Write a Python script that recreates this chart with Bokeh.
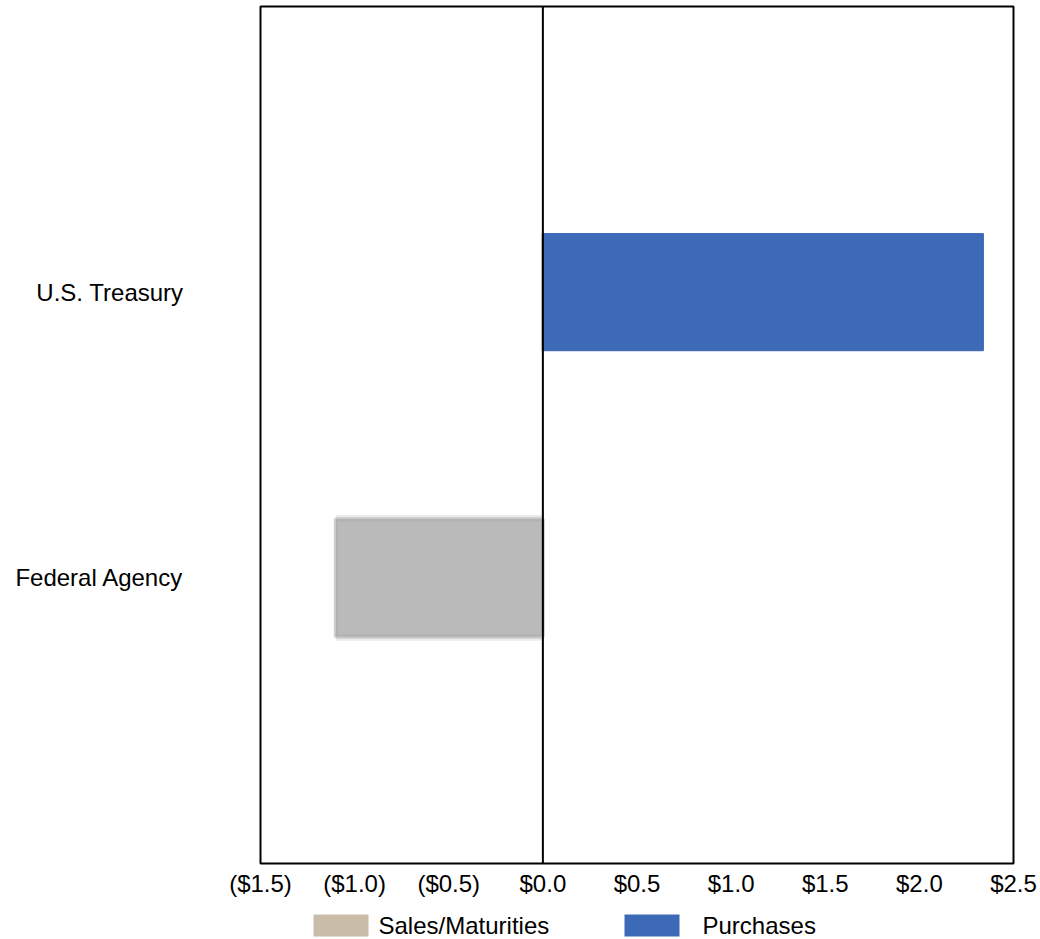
from bokeh.plotting import figure
from bokeh.models import Range1d, FixedTicker, Span, ColumnDataSource
from bokeh.layouts import column
from bokeh.core.properties import value
from bokeh.embed import file_html
from bokeh.resources import INLINE

# Net transactions by security type ($ billions)
categories = ["U.S. Treasury", "Federal Agency"]
sales_maturities = [0.0, -1.1]
purchases = [2.34, 0.0]

tick_values = [-1.5, -1.0, -0.5, 0.0, 0.5, 1.0, 1.5, 2.0, 2.5]
tick_labels = ["($1.5)", "($1.0)", "($0.5)", "$0.0", "$0.5", "$1.0", "$1.5", "$2.0", "$2.5"]

series_names = ["Sales/Maturities", "Purchases"]
bar_gray = "#bababa"
legend_colors = ["#c9bca8", "#3d6ab7"]
blue = "#3d6ab7"

FONT = "Liberation Sans"
n = len(categories)
ypos = [n - i for i in range(n)]  # top-down order, one empty slot below

src = ColumnDataSource(dict(
    y=ypos,
    sales=sales_maturities,
    purch=purchases,
    zero=[0.0] * n,
))

LEFT, RIGHT, TOP, BOTTOM = 260, 27, 6, 42
W = 1040

p = figure(
    width=W, height=905,
    x_range=Range1d(tick_values[0], tick_values[-1]),
    y_range=Range1d(0, n + 1),
    output_backend="svg", toolbar_location=None,
    min_border_left=LEFT, min_border_right=RIGHT,
    min_border_top=TOP, min_border_bottom=BOTTOM,
)
p.background_fill_color = "white"
p.border_fill_color = "white"
p.grid.visible = False
p.outline_line_color = "black"
p.outline_line_width = 2

bar_h = 0.41

# soft edge around the sales bar
p.hbar(y="y", left="sales", right="zero", height=bar_h + 0.03,
       source=src, fill_color="#b0b0b0", fill_alpha=0.25, line_color=None)
p.hbar(y="y", left="sales", right="zero", height=bar_h, source=src,
       fill_color=bar_gray, line_color="#a9a9a9", line_width=4, line_alpha=0.55)
p.hbar(y="y", left="zero", right="purch", height=bar_h, source=src,
       fill_color=blue, line_color="#3a66b3", line_width=1)

p.add_layout(Span(location=0, dimension="height", line_color="black", line_width=2))

xa = p.xaxis[0]
xa.ticker = FixedTicker(ticks=tick_values)
xa.major_label_overrides = {v: s for v, s in zip(tick_values, tick_labels)}
xa.major_tick_line_color = None
xa.minor_tick_line_color = None
xa.axis_line_color = None
xa.major_label_standoff = 0
xa.major_label_text_font = FONT
xa.major_label_text_font_size = "24px"
xa.major_label_text_color = "black"

ya = p.yaxis[0]
ya.ticker = FixedTicker(ticks=ypos)
ya.major_label_overrides = {y: c for y, c in zip(ypos, categories)}
ya.major_tick_line_color = None
ya.minor_tick_line_color = None
ya.axis_line_color = None
ya.major_label_standoff = 71
ya.major_label_text_font = FONT
ya.major_label_text_font_size = "24px"
ya.major_label_text_color = "black"

# legend strip; its frame lines up with the chart frame, so x is in page pixels
leg = figure(
    width=W, height=34,
    x_range=Range1d(LEFT, W - RIGHT), y_range=Range1d(34, 0),
    output_backend="svg", toolbar_location=None,
    min_border_left=LEFT, min_border_right=RIGHT,
    min_border_top=0, min_border_bottom=0,
)
leg.axis.visible = False
leg.grid.visible = False
leg.outline_line_color = None
leg.background_fill_color = "white"
leg.border_fill_color = "white"

swatch_left = [313, 624]
text_left = [378, 702]
sw_w, sw_h, cy = 55, 22, 20
leg.rect(x=[s + sw_w / 2 for s in swatch_left], y=[cy, cy], width=sw_w, height=sw_h,
         fill_color=legend_colors, line_color=None)
leg.text(x=text_left, y=[cy, cy], text=series_names,
         text_font=value(FONT), text_font_size="24px", text_color="black",
         text_baseline="middle", text_align="left")

layout = column(p, leg, spacing=0)
open("out.html", "w").write(file_html(layout, INLINE))
